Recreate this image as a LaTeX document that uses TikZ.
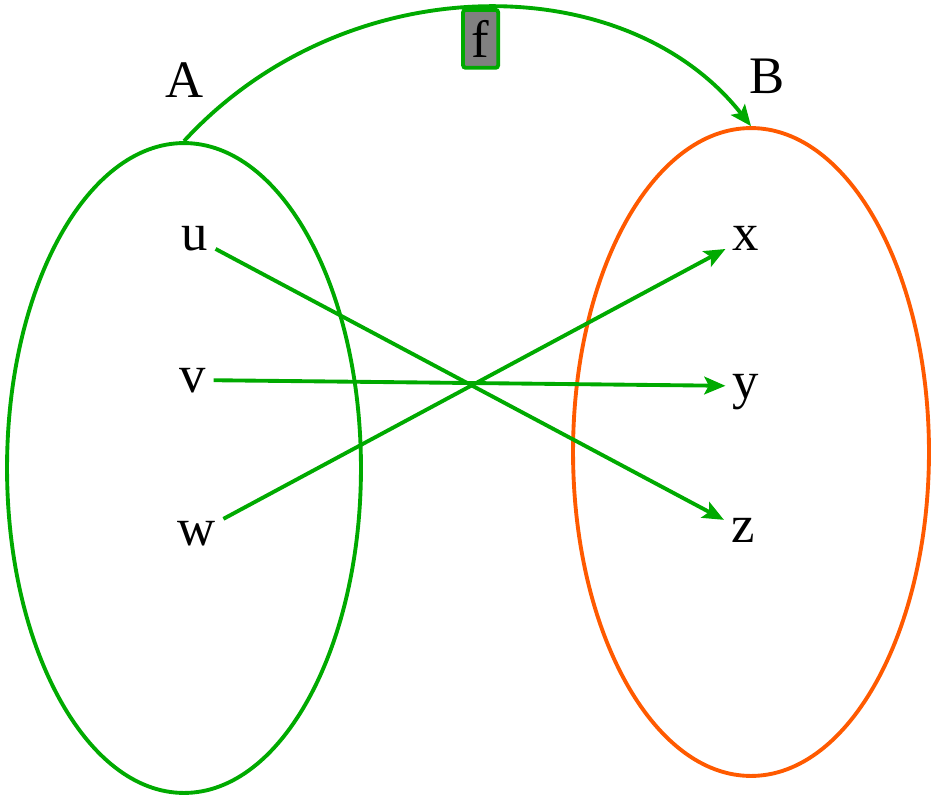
\documentclass[tikz,border=0pt]{standalone}
\usepackage{fontspec}
\setmainfont{Liberation Serif}
\usepackage{tikz}
\usetikzlibrary{arrows.meta, shapes.geometric}
\definecolor{mapgreen}{RGB}{0,170,0}
\definecolor{setorange}{RGB}{255,90,0}

\begin{document}
\begin{tikzpicture}[x=0.02cm,y=-0.02cm,>={Stealth[length=12pt,width=10pt,inset=2.5pt]},
        set/.style={draw,ellipse,line width=2.2pt,inner sep=0pt},
        elem/.style={font=\fontsize{30}{36}\selectfont,text height=14pt,text depth=0pt,inner xsep=4pt,inner ysep=6pt},
        setname/.style={font=\fontsize{30}{36}\selectfont},
        map/.style={->,draw=mapgreen,line width=2.2pt},
        fbox/.style={draw=mapgreen,fill=gray,line width=2.2pt,rounded corners=1.5pt,
                     minimum width=20pt,minimum height=33pt,inner sep=0pt,font=\fontsize{30}{36}\selectfont}]

      \useasboundingbox (0,0) rectangle (935,800);

      \node[set,draw=mapgreen,minimum width=7.08cm,minimum height=13cm]   (setA) at (184,468) {};
      \node[set,draw=setorange,minimum width=7.12cm,minimum height=12.96cm] (setB) at (751,452) {};
      \node[setname] (A) at (185,80) {A};
      \node[setname] (B) at (767,76) {B};

      \node[elem] (u) at (195,238) {u};
      \node[elem] (v) at (193,380) {v};
      \node[elem] (w) at (197,533) {w};
      \node[elem] (x) at (746,238) {x};
      \node[elem] (y) at (746,386) {y};
      \node[elem] (z) at (743,530) {z};

      \draw[map] (u) -- (z);
      \draw[map] (v) -- (y);
      \draw[map] (w) -- (x);

      \draw[map] (setA.north) .. controls (345,-34) and (625,-34) .. (setB.north)
            node[fbox,pos=0.5,anchor=north] (f) {f};
    \end{tikzpicture}
\end{document}
